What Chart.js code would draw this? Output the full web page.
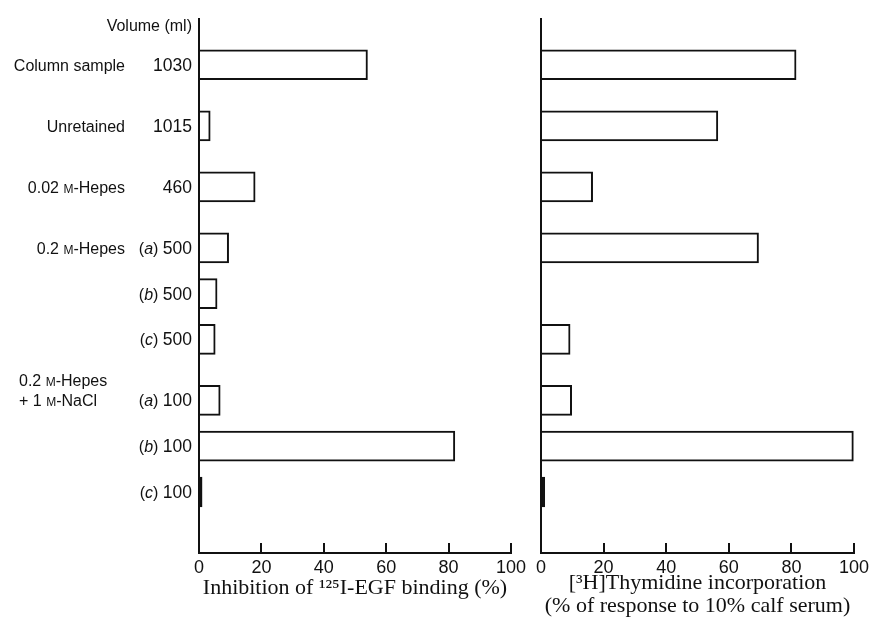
<!DOCTYPE html>
<html>
<head>
<meta charset="utf-8">
<script src="https://cdn.jsdelivr.net/npm/chart.js@4.4.0/dist/chart.umd.min.js"></script>
<style>
  html, body { margin: 0; padding: 0; background: #fff; }
  #wrap { position: relative; width: 869px; height: 628px; }
  canvas { position: absolute; top: 0; }
  #chart-egf { left: 0; }
  #chart-thy { left: 530px; }
</style>
</head>
<body>
<div id="wrap">
  <canvas id="chart-egf" width="530" height="628"></canvas>
  <canvas id="chart-thy" width="339" height="628"></canvas>
</div>
<script>
// rows, top to bottom
const groups    = [['Column sample'], ['Unretained'], ['0.02 M-Hepes'], ['0.2 M-Hepes'], [], [], ['0.2 M-Hepes', '+ 1 M-NaCl'], [], []];
const fractions = ['', '', '', 'a', 'b', 'c', 'a', 'b', 'c'];
const volumes   = [1030, 1015, 460, 500, 500, 500, 100, 100, 100];

// % values
const egfInhibition = [54, 3.6, 18, 9.5, 5.8, 5.2, 6.8, 82, 1];
const thymidine     = [81.5, 56.5, 16.5, 69.5, null, 9.3, 9.8, 99.8, 1.2];

const xTicks = [0, 20, 40, 60, 80, 100];

// blank slots above each row (the gaps between the groups), and below the last one
const gapBefore  = [3, 3, 3, 3, 2, 2, 3, 2, 2];
const slotsAfter = 4;

const SANS  = '"Liberation Sans", Arial, Helvetica, sans-serif';
const SERIF = '"Liberation Serif", "Times New Roman", Times, serif';
const ink   = '#111';

const slotOf = [];
let n = 0;
gapBefore.forEach(g => { n += g; slotOf.push(n); n += 1; });
const slotCount  = n + slotsAfter;
const slotLabels = Array.from({ length: slotCount }, () => '');

function spread(values) {
  const out = new Array(slotCount).fill(null);
  values.forEach((v, i) => { out[slotOf[i]] = v; });
  return out;
}

function fontOf(p) { return `${p.italic ? 'italic ' : ''}${p.size || 16}px ${SANS}`; }

// the M before a hyphen is the molar sign, set as a small capital
function segs(text) {
  return text.split(/(M(?=-))/).filter(s => s).map(s => s === 'M' ? { t: 'M', size: 12 } : { t: s });
}

function drawSegs(ctx, parts, x, y, align) {
  const widths = parts.map(p => { ctx.font = fontOf(p); return ctx.measureText(p.t).width; });
  const total = widths.reduce((a, b) => a + b, 0);
  let cx = align === 'right' ? x - total : x;
  parts.forEach((p, i) => { ctx.font = fontOf(p); ctx.fillText(p.t, cx, y); cx += widths[i]; });
}

const rowLabels = {
  id: 'rowLabels',
  afterDraw(chart) {
    const { ctx, scales: { y }, chartArea } = chart;
    ctx.save();
    ctx.fillStyle = ink;
    ctx.textBaseline = 'alphabetic';
    ctx.textAlign = 'left';
    drawSegs(ctx, [{ t: 'Volume (ml)' }], 192, chartArea.top + 12, 'right');
    slotOf.forEach((slot, i) => {
      const base = y.getPixelForValue(slot) + 6;
      const num = { t: String(volumes[i]), size: 17.5 };
      const vol = fractions[i] ? [{ t: '(' }, { t: fractions[i], italic: true }, { t: ') ' }, num] : [num];
      drawSegs(ctx, vol, 192, base, 'right');
      const g = groups[i];
      if (g.length === 1) drawSegs(ctx, segs(g[0]), 125, base, 'right');
      else g.forEach((line, k) => drawSegs(ctx, segs(line), 19, base - 20 * (g.length - 1 - k), 'left'));
    });
    ctx.restore();
  }
};

function makeChart(id, values, title, pad, titlePad, extra) {
  return new Chart(document.getElementById(id), {
    type: 'bar',
    data: {
      labels: slotLabels,
      datasets: [{
        data: spread(values),
        // bars too thin to show a white inside print as a solid stroke
        backgroundColor: c => (c.raw !== null && c.raw < 2 ? ink : '#fff'),
        borderColor: ink, borderWidth: 2,
        borderSkipped: 'start', barThickness: 30,
      }],
    },
    options: {
      indexAxis: 'y', responsive: false, animation: false,
      layout: { padding: pad },
      plugins: { legend: { display: false }, tooltip: { enabled: false } },
      scales: {
        y: {
          offset: false,
          grid: { display: false, drawTicks: false },
          ticks: { display: false },
          border: { display: true, color: ink, width: 2 },
          afterFit: s => { s.width = 0; },
        },
        x: {
          min: 0, max: 100,
          afterBuildTicks: s => { s.ticks = xTicks.map(v => ({ value: v })); },
          ticks: { color: ink, font: { family: SANS, size: 18 }, padding: 14, maxRotation: 0 },
          grid: { drawOnChartArea: false, tickLength: -10, lineWidth: 2, color: ink },
          border: { display: true, color: ink, width: 2 },
          title: {
            display: true, text: title, color: ink,
            font: { family: SERIF, size: 22, lineHeight: 1.05 },
            padding: { top: 0, bottom: titlePad },
          },
          afterFit: s => { s.height = 75; s.paddingLeft = 0; s.paddingRight = 0; },
        },
      },
    },
    plugins: extra,
  });
}

makeChart('chart-egf', egfInhibition, 'Inhibition of ¹²⁵I-EGF binding (%)',
  { left: 199, right: 19, top: 19, bottom: 0 }, 28, [rowLabels]);
makeChart('chart-thy', thymidine, ['[³H]Thymidine incorporation', '(% of response to 10% calf serum)'],
  { left: 11, right: 15, top: 19, bottom: 0 }, 10, []);
</script>
</body>
</html>
